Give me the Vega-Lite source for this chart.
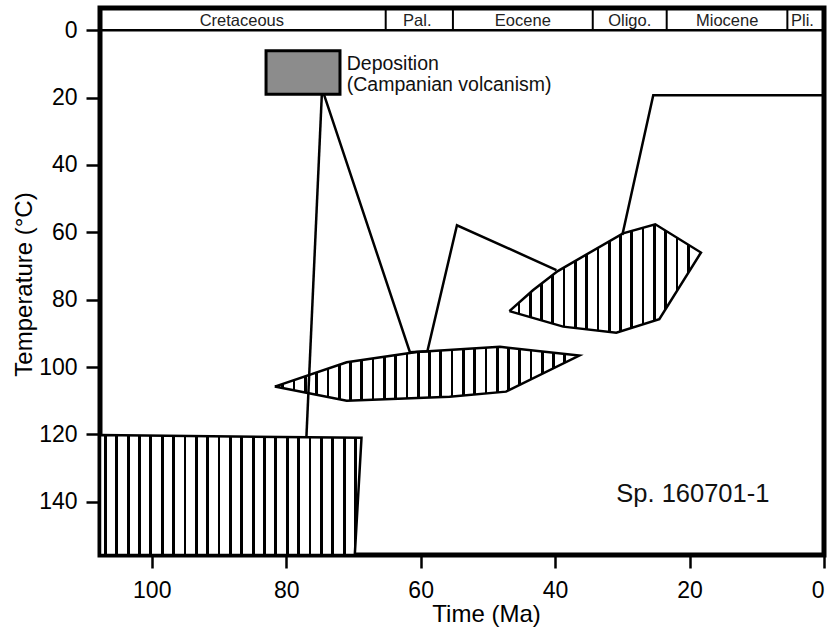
{
  "$schema": "https://vega.github.io/schema/vega-lite/v6.json",
  "width": 724,
  "height": 547,
  "autosize": "none",
  "padding": {"left": 100, "top": 8, "right": 7, "bottom": 84},
  "background": "white",
  "config": {
    "view": {"stroke": "black", "strokeWidth": 5},
    "font": "Liberation Sans",
    "axis": {
      "domain": false, "grid": false, "ticks": true, "tickColor": "black", "tickWidth": 2.5,
      "labelColor": "black", "labelFont": "Liberation Sans", "labelFontSize": 23,
      "titleColor": "black", "titleFont": "Liberation Sans", "titleFontSize": 24, "titleFontWeight": "normal"
    }
  },
  "datasets": {
    "polys": [
      {"poly": "A", "i": 1, "ma": 107.7, "t": 120.2},
      {"poly": "A", "i": 2, "ma": 68.8, "t": 121.0},
      {"poly": "A", "i": 3, "ma": 69.8, "t": 155.8},
      {"poly": "A", "i": 4, "ma": 107.7, "t": 155.8},
      {"poly": "A", "i": 5, "ma": 107.7, "t": 120.2},
      {"poly": "B", "i": 1, "ma": 81.7, "t": 105.8},
      {"poly": "B", "i": 2, "ma": 71.0, "t": 98.6},
      {"poly": "B", "i": 3, "ma": 60.6, "t": 95.5},
      {"poly": "B", "i": 4, "ma": 48.2, "t": 94.0},
      {"poly": "B", "i": 5, "ma": 47.3, "t": 94.2},
      {"poly": "B", "i": 6, "ma": 36.4, "t": 96.6},
      {"poly": "B", "i": 7, "ma": 47.3, "t": 107.3},
      {"poly": "B", "i": 8, "ma": 55.7, "t": 108.8},
      {"poly": "B", "i": 9, "ma": 71.0, "t": 110.0},
      {"poly": "B", "i": 10, "ma": 81.7, "t": 105.8},
      {"poly": "C", "i": 1, "ma": 46.8, "t": 83.4},
      {"poly": "C", "i": 2, "ma": 43.3, "t": 77.2},
      {"poly": "C", "i": 3, "ma": 39.6, "t": 71.5},
      {"poly": "C", "i": 4, "ma": 29.9, "t": 60.3},
      {"poly": "C", "i": 5, "ma": 25.1, "t": 57.6},
      {"poly": "C", "i": 6, "ma": 18.3, "t": 66.0},
      {"poly": "C", "i": 7, "ma": 24.5, "t": 85.8},
      {"poly": "C", "i": 8, "ma": 30.9, "t": 89.8},
      {"poly": "C", "i": 9, "ma": 38.8, "t": 88.0},
      {"poly": "C", "i": 10, "ma": 46.8, "t": 83.4}
    ],
    "paths": [
      {"path": "p1", "i": 1, "ma": 74.7, "t": 19.0},
      {"path": "p1", "i": 2, "ma": 77.0, "t": 121.0},
      {"path": "p2", "i": 1, "ma": 74.4, "t": 19.0},
      {"path": "p2", "i": 2, "ma": 61.6, "t": 95.6},
      {"path": "p2", "i": 3, "ma": 59.0, "t": 95.3},
      {"path": "p2", "i": 4, "ma": 54.6, "t": 57.9},
      {"path": "p2", "i": 5, "ma": 39.8, "t": 71.2},
      {"path": "p3", "i": 1, "ma": 30.0, "t": 60.8},
      {"path": "p3", "i": 2, "ma": 25.4, "t": 19.3},
      {"path": "p3", "i": 3, "ma": 0.0, "t": 19.3}
    ],
    "boundaries": [
      {"ma": 65.2, "t": -6.6, "t2": 0},
      {"ma": 55.2, "t": -6.6, "t2": 0},
      {"ma": 34.4, "t": -6.6, "t2": 0},
      {"ma": 23.4, "t": -6.6, "t2": 0},
      {"ma": 5.45, "t": -6.6, "t2": 0}
    ],
    "periods": [
      {"label": "Cretaceous", "ma": 86.6, "t": -1.3},
      {"label": "Pal.", "ma": 60.5, "t": -1.3},
      {"label": "Eocene", "ma": 44.8, "t": -1.3},
      {"label": "Oligo.", "ma": 28.9, "t": -1.3},
      {"label": "Miocene", "ma": 14.4, "t": -1.3},
      {"label": "Pli.", "ma": 3.2, "t": -1.3}
    ],
    "deposition": [{"ma": 83.0, "ma2": 72.0, "t": 6.1, "t2": 19.0}],
    "notes": [
      {"kind": "dep", "label": "Deposition", "ma": 71.0, "t": 11.8},
      {"kind": "dep", "label": "(Campanian volcanism)", "ma": 71.0, "t": 18.1},
      {"kind": "sample", "label": "Sp. 160701-1", "ma": 30.9, "t": 140.1}
    ],
    "zero": [{"ma": 107.7, "ma2": 0, "t": 0}]
  },
  "encoding": {
    "x": {
      "field": "ma", "type": "quantitative",
      "scale": {"domain": [0, 107.7], "reverse": true, "nice": false, "zero": false},
      "axis": {"values": [0, 20, 40, 60, 80, 100], "tickSize": 13, "labelPadding": 11, "title": "Time (Ma)",
               "titleX": 386, "titleY": 66, "titleAlign": "center", "titleBaseline": "alphabetic"}
    },
    "y": {
      "field": "t", "type": "quantitative",
      "scale": {"domain": [-6.6, 155.8], "reverse": true, "nice": false, "zero": false},
      "axis": {"values": [0, 20, 40, 60, 80, 100, 120, 140], "tickSize": 14, "labelPadding": 9, "title": "Temperature (°C)",
               "titleX": -69, "titleY": 276, "titleAngle": -90, "titleAlign": "center", "titleBaseline": "alphabetic"}
    }
  },
  "layer": [
    {
      "data": {"name": "polys"},
      "transform": [{"filter": "datum.poly == 'A'"}],
      "mark": {"type": "line", "stroke": "black", "strokeWidth": 2.5,
        "fill": {"gradient": "linear", "x1": 0, "y1": 0, "x2": 1, "y2": 0, "stops": [
          {"offset": 0, "color": "white"},
          {"offset": 0.015, "color": "white"}, {"offset": 0.015, "color": "black"}, {"offset": 0.026, "color": "black"}, {"offset": 0.026, "color": "white"},
          {"offset": 0.0585, "color": "white"}, {"offset": 0.0585, "color": "black"}, {"offset": 0.0695, "color": "black"}, {"offset": 0.0695, "color": "white"},
          {"offset": 0.102, "color": "white"}, {"offset": 0.102, "color": "black"}, {"offset": 0.113, "color": "black"}, {"offset": 0.113, "color": "white"},
          {"offset": 0.1454, "color": "white"}, {"offset": 0.1454, "color": "black"}, {"offset": 0.1564, "color": "black"}, {"offset": 0.1564, "color": "white"},
          {"offset": 0.1889, "color": "white"}, {"offset": 0.1889, "color": "black"}, {"offset": 0.1999, "color": "black"}, {"offset": 0.1999, "color": "white"},
          {"offset": 0.2324, "color": "white"}, {"offset": 0.2324, "color": "black"}, {"offset": 0.2434, "color": "black"}, {"offset": 0.2434, "color": "white"},
          {"offset": 0.2759, "color": "white"}, {"offset": 0.2759, "color": "black"}, {"offset": 0.2869, "color": "black"}, {"offset": 0.2869, "color": "white"},
          {"offset": 0.3194, "color": "white"}, {"offset": 0.3194, "color": "black"}, {"offset": 0.3304, "color": "black"}, {"offset": 0.3304, "color": "white"},
          {"offset": 0.3628, "color": "white"}, {"offset": 0.3628, "color": "black"}, {"offset": 0.3738, "color": "black"}, {"offset": 0.3738, "color": "white"},
          {"offset": 0.4063, "color": "white"}, {"offset": 0.4063, "color": "black"}, {"offset": 0.4173, "color": "black"}, {"offset": 0.4173, "color": "white"},
          {"offset": 0.4498, "color": "white"}, {"offset": 0.4498, "color": "black"}, {"offset": 0.4608, "color": "black"}, {"offset": 0.4608, "color": "white"},
          {"offset": 0.4933, "color": "white"}, {"offset": 0.4933, "color": "black"}, {"offset": 0.5043, "color": "black"}, {"offset": 0.5043, "color": "white"},
          {"offset": 0.5368, "color": "white"}, {"offset": 0.5368, "color": "black"}, {"offset": 0.5478, "color": "black"}, {"offset": 0.5478, "color": "white"},
          {"offset": 0.5802, "color": "white"}, {"offset": 0.5802, "color": "black"}, {"offset": 0.5912, "color": "black"}, {"offset": 0.5912, "color": "white"},
          {"offset": 0.6237, "color": "white"}, {"offset": 0.6237, "color": "black"}, {"offset": 0.6347, "color": "black"}, {"offset": 0.6347, "color": "white"},
          {"offset": 0.6672, "color": "white"}, {"offset": 0.6672, "color": "black"}, {"offset": 0.6782, "color": "black"}, {"offset": 0.6782, "color": "white"},
          {"offset": 0.7107, "color": "white"}, {"offset": 0.7107, "color": "black"}, {"offset": 0.7217, "color": "black"}, {"offset": 0.7217, "color": "white"},
          {"offset": 0.7542, "color": "white"}, {"offset": 0.7542, "color": "black"}, {"offset": 0.7652, "color": "black"}, {"offset": 0.7652, "color": "white"},
          {"offset": 0.7976, "color": "white"}, {"offset": 0.7976, "color": "black"}, {"offset": 0.8086, "color": "black"}, {"offset": 0.8086, "color": "white"},
          {"offset": 0.8411, "color": "white"}, {"offset": 0.8411, "color": "black"}, {"offset": 0.8521, "color": "black"}, {"offset": 0.8521, "color": "white"},
          {"offset": 0.8846, "color": "white"}, {"offset": 0.8846, "color": "black"}, {"offset": 0.8956, "color": "black"}, {"offset": 0.8956, "color": "white"},
          {"offset": 0.9281, "color": "white"}, {"offset": 0.9281, "color": "black"}, {"offset": 0.9391, "color": "black"}, {"offset": 0.9391, "color": "white"},
          {"offset": 0.9715, "color": "white"}, {"offset": 0.9715, "color": "black"}, {"offset": 0.9825, "color": "black"}, {"offset": 0.9825, "color": "white"},
          {"offset": 1, "color": "white"}
        ]}},
      "encoding": {"order": {"field": "i", "type": "quantitative"}}
    },
    {
      "data": {"name": "polys"},
      "transform": [{"filter": "datum.poly == 'B'"}],
      "mark": {"type": "line", "stroke": "black", "strokeWidth": 2.5,
        "fill": {"gradient": "linear", "x1": 0, "y1": 0, "x2": 1, "y2": 0, "stops": [
          {"offset": 0, "color": "white"},
          {"offset": 0.022, "color": "white"}, {"offset": 0.022, "color": "black"}, {"offset": 0.031, "color": "black"}, {"offset": 0.031, "color": "white"},
          {"offset": 0.059, "color": "white"}, {"offset": 0.059, "color": "black"}, {"offset": 0.068, "color": "black"}, {"offset": 0.068, "color": "white"},
          {"offset": 0.0961, "color": "white"}, {"offset": 0.0961, "color": "black"}, {"offset": 0.1051, "color": "black"}, {"offset": 0.1051, "color": "white"},
          {"offset": 0.1331, "color": "white"}, {"offset": 0.1331, "color": "black"}, {"offset": 0.1421, "color": "black"}, {"offset": 0.1421, "color": "white"},
          {"offset": 0.1702, "color": "white"}, {"offset": 0.1702, "color": "black"}, {"offset": 0.1792, "color": "black"}, {"offset": 0.1792, "color": "white"},
          {"offset": 0.2072, "color": "white"}, {"offset": 0.2072, "color": "black"}, {"offset": 0.2162, "color": "black"}, {"offset": 0.2162, "color": "white"},
          {"offset": 0.2442, "color": "white"}, {"offset": 0.2442, "color": "black"}, {"offset": 0.2532, "color": "black"}, {"offset": 0.2532, "color": "white"},
          {"offset": 0.2813, "color": "white"}, {"offset": 0.2813, "color": "black"}, {"offset": 0.2903, "color": "black"}, {"offset": 0.2903, "color": "white"},
          {"offset": 0.3183, "color": "white"}, {"offset": 0.3183, "color": "black"}, {"offset": 0.3273, "color": "black"}, {"offset": 0.3273, "color": "white"},
          {"offset": 0.3554, "color": "white"}, {"offset": 0.3554, "color": "black"}, {"offset": 0.3644, "color": "black"}, {"offset": 0.3644, "color": "white"},
          {"offset": 0.3924, "color": "white"}, {"offset": 0.3924, "color": "black"}, {"offset": 0.4014, "color": "black"}, {"offset": 0.4014, "color": "white"},
          {"offset": 0.4294, "color": "white"}, {"offset": 0.4294, "color": "black"}, {"offset": 0.4384, "color": "black"}, {"offset": 0.4384, "color": "white"},
          {"offset": 0.4665, "color": "white"}, {"offset": 0.4665, "color": "black"}, {"offset": 0.4755, "color": "black"}, {"offset": 0.4755, "color": "white"},
          {"offset": 0.5035, "color": "white"}, {"offset": 0.5035, "color": "black"}, {"offset": 0.5125, "color": "black"}, {"offset": 0.5125, "color": "white"},
          {"offset": 0.5406, "color": "white"}, {"offset": 0.5406, "color": "black"}, {"offset": 0.5496, "color": "black"}, {"offset": 0.5496, "color": "white"},
          {"offset": 0.5776, "color": "white"}, {"offset": 0.5776, "color": "black"}, {"offset": 0.5866, "color": "black"}, {"offset": 0.5866, "color": "white"},
          {"offset": 0.6146, "color": "white"}, {"offset": 0.6146, "color": "black"}, {"offset": 0.6236, "color": "black"}, {"offset": 0.6236, "color": "white"},
          {"offset": 0.6517, "color": "white"}, {"offset": 0.6517, "color": "black"}, {"offset": 0.6607, "color": "black"}, {"offset": 0.6607, "color": "white"},
          {"offset": 0.6887, "color": "white"}, {"offset": 0.6887, "color": "black"}, {"offset": 0.6977, "color": "black"}, {"offset": 0.6977, "color": "white"},
          {"offset": 0.7258, "color": "white"}, {"offset": 0.7258, "color": "black"}, {"offset": 0.7348, "color": "black"}, {"offset": 0.7348, "color": "white"},
          {"offset": 0.7628, "color": "white"}, {"offset": 0.7628, "color": "black"}, {"offset": 0.7718, "color": "black"}, {"offset": 0.7718, "color": "white"},
          {"offset": 0.7998, "color": "white"}, {"offset": 0.7998, "color": "black"}, {"offset": 0.8088, "color": "black"}, {"offset": 0.8088, "color": "white"},
          {"offset": 0.8369, "color": "white"}, {"offset": 0.8369, "color": "black"}, {"offset": 0.8459, "color": "black"}, {"offset": 0.8459, "color": "white"},
          {"offset": 0.8739, "color": "white"}, {"offset": 0.8739, "color": "black"}, {"offset": 0.8829, "color": "black"}, {"offset": 0.8829, "color": "white"},
          {"offset": 0.911, "color": "white"}, {"offset": 0.911, "color": "black"}, {"offset": 0.92, "color": "black"}, {"offset": 0.92, "color": "white"},
          {"offset": 0.948, "color": "white"}, {"offset": 0.948, "color": "black"}, {"offset": 0.957, "color": "black"}, {"offset": 0.957, "color": "white"},
          {"offset": 1, "color": "white"}
        ]}},
      "encoding": {"order": {"field": "i", "type": "quantitative"}}
    },
    {
      "data": {"name": "polys"},
      "transform": [{"filter": "datum.poly == 'C'"}],
      "mark": {"type": "line", "stroke": "black", "strokeWidth": 2.5,
        "fill": {"gradient": "linear", "x1": 0, "y1": 0, "x2": 1, "y2": 0, "stops": [
          {"offset": 0, "color": "white"},
          {"offset": 0.043, "color": "white"}, {"offset": 0.043, "color": "black"}, {"offset": 0.057, "color": "black"}, {"offset": 0.057, "color": "white"},
          {"offset": 0.1019, "color": "white"}, {"offset": 0.1019, "color": "black"}, {"offset": 0.1159, "color": "black"}, {"offset": 0.1159, "color": "white"},
          {"offset": 0.1608, "color": "white"}, {"offset": 0.1608, "color": "black"}, {"offset": 0.1748, "color": "black"}, {"offset": 0.1748, "color": "white"},
          {"offset": 0.2197, "color": "white"}, {"offset": 0.2197, "color": "black"}, {"offset": 0.2337, "color": "black"}, {"offset": 0.2337, "color": "white"},
          {"offset": 0.2786, "color": "white"}, {"offset": 0.2786, "color": "black"}, {"offset": 0.2926, "color": "black"}, {"offset": 0.2926, "color": "white"},
          {"offset": 0.3375, "color": "white"}, {"offset": 0.3375, "color": "black"}, {"offset": 0.3515, "color": "black"}, {"offset": 0.3515, "color": "white"},
          {"offset": 0.3964, "color": "white"}, {"offset": 0.3964, "color": "black"}, {"offset": 0.4104, "color": "black"}, {"offset": 0.4104, "color": "white"},
          {"offset": 0.4553, "color": "white"}, {"offset": 0.4553, "color": "black"}, {"offset": 0.4693, "color": "black"}, {"offset": 0.4693, "color": "white"},
          {"offset": 0.5142, "color": "white"}, {"offset": 0.5142, "color": "black"}, {"offset": 0.5282, "color": "black"}, {"offset": 0.5282, "color": "white"},
          {"offset": 0.5731, "color": "white"}, {"offset": 0.5731, "color": "black"}, {"offset": 0.5871, "color": "black"}, {"offset": 0.5871, "color": "white"},
          {"offset": 0.632, "color": "white"}, {"offset": 0.632, "color": "black"}, {"offset": 0.646, "color": "black"}, {"offset": 0.646, "color": "white"},
          {"offset": 0.6909, "color": "white"}, {"offset": 0.6909, "color": "black"}, {"offset": 0.7049, "color": "black"}, {"offset": 0.7049, "color": "white"},
          {"offset": 0.7498, "color": "white"}, {"offset": 0.7498, "color": "black"}, {"offset": 0.7638, "color": "black"}, {"offset": 0.7638, "color": "white"},
          {"offset": 0.8087, "color": "white"}, {"offset": 0.8087, "color": "black"}, {"offset": 0.8227, "color": "black"}, {"offset": 0.8227, "color": "white"},
          {"offset": 0.8676, "color": "white"}, {"offset": 0.8676, "color": "black"}, {"offset": 0.8816, "color": "black"}, {"offset": 0.8816, "color": "white"},
          {"offset": 0.9265, "color": "white"}, {"offset": 0.9265, "color": "black"}, {"offset": 0.9405, "color": "black"}, {"offset": 0.9405, "color": "white"},
          {"offset": 1, "color": "white"}
        ]}},
      "encoding": {"order": {"field": "i", "type": "quantitative"}}
    },
    {
      "data": {"name": "paths"},
      "mark": {"type": "line", "stroke": "black", "strokeWidth": 2.5},
      "encoding": {"detail": {"field": "path"}, "order": {"field": "i", "type": "quantitative"}}
    },
    {
      "data": {"name": "deposition"},
      "mark": {"type": "rect", "fill": "#8c8c8c", "stroke": "black", "strokeWidth": 3},
      "encoding": {"x2": {"field": "ma2"}, "y2": {"field": "t2"}}
    },
    {
      "data": {"name": "zero"},
      "mark": {"type": "rule", "stroke": "black", "strokeWidth": 2.5},
      "encoding": {"x2": {"field": "ma2"}}
    },
    {
      "data": {"name": "boundaries"},
      "mark": {"type": "rule", "stroke": "black", "strokeWidth": 2},
      "encoding": {"y2": {"field": "t2"}}
    },
    {
      "data": {"name": "periods"},
      "mark": {"type": "text", "fontSize": 16.5, "align": "center", "baseline": "alphabetic", "color": "#222"},
      "encoding": {"text": {"field": "label"}}
    },
    {
      "data": {"name": "notes"},
      "transform": [{"filter": "datum.kind == 'dep'"}],
      "mark": {"type": "text", "fontSize": 19.5, "align": "left", "baseline": "alphabetic", "color": "#111"},
      "encoding": {"text": {"field": "label"}}
    },
    {
      "data": {"name": "notes"},
      "transform": [{"filter": "datum.kind == 'sample'"}],
      "mark": {"type": "text", "fontSize": 25.5, "align": "left", "baseline": "alphabetic", "color": "#111"},
      "encoding": {"text": {"field": "label"}}
    }
  ]
}
